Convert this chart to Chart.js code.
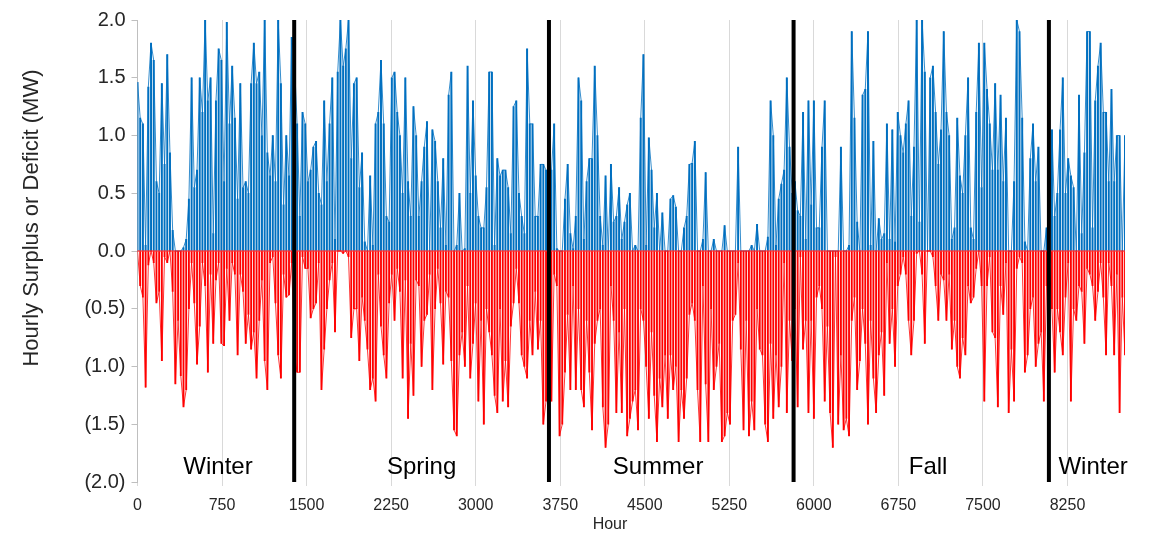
<!DOCTYPE html>
<html>
<head>
<meta charset="utf-8">
<script src="https://cdn.jsdelivr.net/npm/chart.js@4/dist/chart.umd.min.js"></script>
<style>
  html, body { margin: 0; padding: 0; background: #ffffff; }
  #wrap { width: 1152px; height: 535px; }
</style>
</head>
<body>
<div id="wrap"><canvas id="c" width="1152" height="535"></canvas></div>
<script>
// Hourly surplus (>=0) and deficit (<=0) at one point per day (MW)
const HOURS_PER_POINT = 24;
const surplus = [
  1.46,1.15,1.1,0.05,1.42,1.8,1.65,0.6,0.5,1.45,0.75,1.7,0.85,0.18,0,0,0,0.03,0.1,0.45,1.5,0.55,0.7,1.5,1.2,2.0,1.3,1.5,0.15,1.3,1.75,1.65,0.6,1.98,1.1,1.6,1.15,
  0.45,1.45,0.55,0.6,0.5,1.45,1.8,1.45,1.55,1.0,2.0,0.85,0.65,1.0,0.6,2.0,1.45,0.4,1.0,0.65,1.85,1.65,1.1,0.3,1.2,1.1,0.6,0.7,0.9,0.95,0.5,0.4,1.3,0.6,1.1,1.5,0.1,
  1.55,2.0,1.6,1.75,2.0,0.8,1.45,1.5,0.55,0.85,0.08,0,0.65,0.05,1.1,1.2,1.65,1.1,0.3,0.25,1.5,1.55,1.2,1.0,0.5,1.5,0.6,0.3,1.25,1.0,0.3,0.6,0.9,1.12,0,1.05,0.95,
  0.6,0.2,0.8,0.05,1.35,1.55,0,0.05,0.5,0,0.02,1.6,0.5,1.3,0.65,0.3,0.2,0.2,0.55,1.55,1.55,0.05,0.8,0.65,0.7,0.7,0.55,0.15,1.25,1.3,0.5,0.3,0.15,1.75,1.1,1.1,0.3,
  0.3,0.75,0.75,0.7,0.65,0.7,1.1,0.02,0,0,0.45,0.75,0.15,0.02,0.3,1.5,1.3,0.1,0.6,0.8,0.8,1.6,1.0,0.3,0.05,0.65,0,0.75,0.25,0.3,0.55,0.1,0.25,0.4,0.5,0,0.05,
  0,1.15,1.7,0.05,0.98,0.7,0.2,0.5,0,0.33,0,0,0.45,0.48,0.38,0,0,0.2,0.3,0.75,0.76,0.95,0,0,0.1,0.68,0,0,0.1,0,0,0,0.22,0,0,0,0,
  0.9,0,0,0,0,0.05,0,0.23,0,0,0,0.12,1.3,1.0,0.05,0.45,0.58,0.7,1.5,0.9,0.5,0.6,0.35,0.3,1.2,0.1,1.3,0.4,1.3,0.2,0.2,0.9,1.3,0,0,0,0,
  0,0.9,0,0,0.05,1.9,1.15,0.25,0,1.35,1.4,1.9,0.05,0.95,0,0.28,0.1,0.15,1.1,0.1,1.05,0.08,1.2,1.0,0.85,1.1,1.3,0.3,0.9,2.0,0.25,2.0,1.55,0,1.5,1.6,1.2,
  0.75,1.05,1.9,1.2,1.0,0.1,0.2,1.15,0.65,0.5,1.0,1.5,0.2,0.1,1.2,1.8,0.55,1.8,1.4,1.1,0.7,1.45,0.7,1.35,0.6,1.15,0,0,0.6,2.0,1.9,1.15,0.08,0,0.8,1.1,0.6,
  0.9,0,0,0.2,0,1.05,0.3,0.5,1.05,1.5,0.5,0.8,0.65,0.55,0,1.35,0.15,0.85,1.9,1.9,0.2,1.3,1.6,1.8,1.2,1.2,0.6,1.4,0.6,1.0,1.0,0,1.0
];
const deficit = [
  0,-0.3,-0.4,-1.18,-0.12,0,-0.1,-0.45,-0.35,-0.95,-0.05,-0.1,0,-0.35,-1.15,-0.6,-1.08,-1.35,-1.2,-0.5,-0.1,-0.45,-0.98,-0.65,-0.1,-0.3,-1.05,-0.2,-0.8,-0.25,-0.1,-0.8,-0.82,-0.15,-0.6,-0.1,-0.2,
  -0.9,-0.2,-0.35,-0.8,-0.55,-0.85,-0.7,-1.1,-0.6,-0.25,-0.95,-1.2,-0.1,-0.05,-0.45,-0.9,-1.1,-0.2,-0.4,-0.38,-0.1,-0.9,-1.05,-1.05,-0.05,-0.15,-0.15,-0.58,-0.5,-0.45,-0.1,-1.2,-0.85,-0.5,-0.25,-0.1,-0.7,
  0,0,-0.02,0,-0.05,-0.75,-0.5,-0.5,-0.95,-0.4,-0.6,-0.85,-1.2,-1.1,-1.3,-0.2,-0.65,-0.9,-1.1,-0.45,-0.2,-0.6,-0.15,-0.35,-1.1,-0.25,-1.45,-0.8,-1.25,-0.25,-0.3,-1.0,-0.6,-0.55,-0.2,-1.2,-0.5,
  -0.15,-0.45,-0.98,-0.35,-0.4,-0.95,-1.55,-1.6,-0.9,-0.7,-1.0,-0.3,-1.1,-0.8,-0.45,-1.3,-0.6,-1.5,-0.5,-0.7,-0.9,-1.25,-1.4,-0.5,-1.3,-0.95,-1.35,-0.65,-0.45,-0.15,-0.45,-0.9,-1.0,-1.1,-0.6,-0.9,-0.35,
  -0.85,-0.6,-1.5,-1.3,-1.0,-1.3,-0.2,-0.3,-1.6,-1.5,-1.05,-0.55,-1.2,-0.3,-1.2,-0.5,-1.2,-1.35,-0.6,-1.05,-1.55,-0.8,-0.6,-0.5,-1.35,-1.7,-1.5,-0.3,-0.6,-1.4,-0.7,-1.4,-0.5,-1.6,-1.45,-1.3,-1.2,
  -1.55,-0.5,-0.6,-1.0,-1.45,-0.7,-1.25,-1.65,-1.1,-1.35,-0.9,-1.45,-0.9,-1.2,-1.0,-1.65,-1.2,-1.45,-1.1,-0.55,-0.45,-0.6,-1.2,-1.65,-0.3,-1.15,-1.65,-0.5,-1.2,-1.0,-0.8,-1.65,-1.6,-1.4,-1.5,-0.6,-0.55,
  -0.1,-0.85,-1.55,-0.6,-1.6,-1.3,-1.55,-0.5,-0.85,-0.9,-1.5,-1.65,-0.8,-1.45,-0.9,-1.35,-1.0,-0.1,-1.4,-0.6,-0.95,-0.5,-1.35,-0.05,-0.85,-0.6,-1.4,-0.6,-1.45,-0.4,-0.3,-0.5,-1.3,-0.65,-1.4,-1.7,-0.05,
  -1.5,-0.9,-1.55,-1.45,-1.6,-0.6,-0.4,-1.2,-0.95,-0.5,-0.8,-1.5,-0.6,-1.1,-1.4,-0.9,-0.7,-1.25,-0.1,-0.8,-0.5,-1.0,-0.3,-0.2,-0.05,-0.2,-0.6,-0.9,-0.6,-0.02,0,-0.2,-0.8,0,0,-0.05,-0.3,
  -0.6,-0.2,-0.25,-0.6,-0.2,-0.85,-0.6,-1.0,-1.1,-0.75,-0.9,-0.3,-0.45,-0.4,-0.15,0,-0.3,-1.3,-0.3,-0.05,-0.7,-0.75,-1.35,-0.3,-0.55,-0.1,-1.4,-0.85,-1.3,-0.15,-0.05,-0.1,-1.05,-0.9,-0.5,-0.4,-1.0,
  -0.8,-0.7,-1.3,-0.3,-0.1,-0.5,-1.05,-0.5,-0.7,-0.9,-0.4,-0.1,-1.3,-0.5,-0.6,-0.3,-0.35,-0.8,-0.15,-0.2,-0.3,-0.6,-0.35,-0.1,-0.4,-0.9,-0.1,-0.3,-0.9,-0.2,-1.4,-0.4,-0.9
];
// Season boundaries (hour) and season labels
const seasonBoundaries = [1390, 3650, 5820, 8085];
const seasonNames = ["Winter", "Spring", "Summer", "Fall", "Winter"];
const seasonLabelHours = [714, 2520, 4618, 7013, 8477];
const seasonLabelValue = -1.87;
// Axis settings
const xTickValues = [0, 750, 1500, 2250, 3000, 3750, 4500, 5250, 6000, 6750, 7500, 8250];
const xMax = 8760;
const yTitle = "Hourly Surplus or Deficit (MW)";
const xTitle = "Hour";

const surplusPts = surplus.map((v, i) => ({ x: i * HOURS_PER_POINT, y: v }));
const deficitPts = deficit.map((v, i) => ({ x: i * HOURS_PER_POINT, y: v }));

const BLUE = '#0070C0';
const RED = '#FF0000';

const boundaryDatasets = seasonBoundaries.map(h => ({
  type: 'line',
  label: 'boundary',
  data: [{ x: h, y: -2 }, { x: h, y: 2 }],
  borderColor: '#000000',
  borderWidth: 4,
  pointRadius: 0,
  order: 0
}));

const FONT = "'Liberation Sans', Arial, sans-serif";

const annotations = {
  id: 'annotations',
  afterDatasetsDraw(chart) {
    const { ctx, scales: { x, y } } = chart;
    ctx.save();
    ctx.fillStyle = '#000000';
    ctx.font = "24px " + FONT;
    ctx.textAlign = 'center';
    ctx.textBaseline = 'middle';
    seasonNames.forEach((n, i) => {
      ctx.fillText(n, x.getPixelForValue(seasonLabelHours[i]), y.getPixelForValue(seasonLabelValue));
    });
    ctx.fillStyle = '#262626';
    ctx.font = "16px " + FONT;
    ctx.fillText(xTitle, 610, 525);
    ctx.translate(32, 218);
    ctx.rotate(-Math.PI / 2);
    ctx.font = "22px " + FONT;
    ctx.fillText(yTitle, 0, 0);
    ctx.restore();
  }
};

new Chart(document.getElementById('c'), {
  type: 'line',
  data: {
    datasets: [
      ...boundaryDatasets,
      {
        type: 'line',
        label: 'Deficit line',
        data: deficitPts,
        borderColor: RED,
        borderWidth: 0.8,
        pointRadius: 0,
        tension: 0,
        order: 1
      },
      {
        type: 'bar',
        label: 'Deficit',
        data: deficitPts,
        backgroundColor: RED,
        borderWidth: 0,
        barThickness: 1.2,
        grouped: false,
        order: 2
      },
      {
        type: 'line',
        label: 'Surplus line',
        data: surplusPts,
        borderColor: BLUE,
        borderWidth: 0.8,
        pointRadius: 0,
        tension: 0,
        order: 3
      },
      {
        type: 'bar',
        label: 'Surplus',
        data: surplusPts,
        backgroundColor: BLUE,
        borderWidth: 0,
        barThickness: 1.3,
        grouped: false,
        order: 4
      },
      {
        type: 'line',
        label: 'zero',
        data: [{ x: 0, y: 0 }, { x: xMax, y: 0 }],
        borderColor: RED,
        borderWidth: 1.2,
        pointRadius: 0,
        order: 1
      }
    ]
  },
  options: {
    responsive: false,
    animation: false,
    events: [],
    layout: { padding: { top: 20, right: 27, bottom: 0, left: 0 } },
    plugins: { legend: { display: false }, tooltip: { enabled: false } },
    scales: {
      x: {
        type: 'linear',
        min: 0,
        max: xMax,
        offset: false,
        afterFit(s) { s.height = 53; },
        afterBuildTicks(s) { s.ticks = xTickValues.map(v => ({ value: v })); },
        ticks: {
          color: '#262626',
          font: { family: FONT, size: 16 },
          padding: 10,
          maxRotation: 0,
          autoSkip: false,
          callback: (v) => String(v)
        },
        grid: { color: '#d9d9d9', lineWidth: 1, tickLength: 4, drawOnChartArea: true, offset: false },
        border: { display: false }
      },
      y: {
        min: -2,
        max: 2,
        afterFit(s) { s.width = 137.5; },
        ticks: {
          stepSize: 0.5,
          color: '#262626',
          font: { family: FONT, size: 20 },
          padding: 6,
          callback: (v) => {
            const a = Math.abs(v).toFixed(1);
            return v < 0 ? '(' + a + ')' : a;
          }
        },
        grid: { drawOnChartArea: false, drawTicks: true, tickLength: 6, color: '#bfbfbf' },
        border: { display: true, color: '#bfbfbf', width: 1 }
      }
    }
  },
  plugins: [annotations]
});
</script>
</body>
</html>
